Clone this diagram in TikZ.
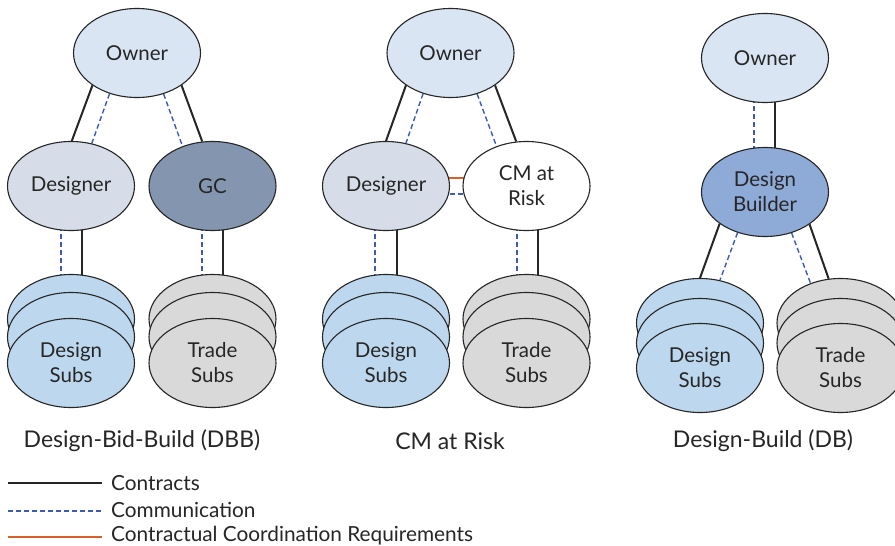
\documentclass[tikz,border=0pt]{standalone}
\usepackage{fontspec}
\setmainfont{Lato}
\usetikzlibrary{shapes.geometric}
\pgfdeclarelayer{bg}
\pgfsetlayers{bg,main}
\definecolor{ownerc}{HTML}{D9E5F3}
\definecolor{desc}{HTML}{D7DDE8}
\definecolor{gcc}{HTML}{8496AF}
\definecolor{dsubc}{HTML}{BDD8EE}
\definecolor{tsubc}{HTML}{D9D9D9}
\definecolor{dbc}{HTML}{8EAAD7}
\definecolor{commc}{HTML}{3B5BB5}
\definecolor{coordc}{HTML}{D8602A}
\definecolor{inkc}{HTML}{262626}
\tikzset{
  ent/.style={ellipse, draw=inkc, line width=1.1pt, minimum width=127pt, minimum height=89pt,
    inner sep=0pt, align=center, text=inkc, font=\fontsize{20.5}{25}\selectfont},
  contract/.style={draw=inkc, line width=2pt},
  comm/.style={draw=commc, line width=1.4pt, dash pattern=on 5pt off 3pt},
  coordreq/.style={draw=coordc, line width=2pt},
  ptitle/.style={font=\fontsize{23}{26}\selectfont, text=inkc, inner sep=0pt},
  legtext/.style={anchor=base west, inner sep=0pt, font=\fontsize{20.8}{23}\selectfont, text=inkc}
}
\begin{document}
\begin{tikzpicture}[x=1pt,y=-1pt]
\useasboundingbox (0,0) rectangle (895,546);
\clip (0,0) rectangle (895,546);

% ---------- Design-Bid-Build ----------
\node[ent, fill=ownerc] (O1) at (137,53) {Owner};
\node[ent, fill=desc] (D1) at (71,186) {Designer};
\node[ent, fill=gcc] (G1) at (212.5,186) {GC};
\node[ent, fill=dsubc] (DS1a) at (71,319) {};
\node[ent, fill=dsubc] (DS1b) at (71,337) {};
\node[ent, fill=dsubc] (DS1) at (71,363) {Design\\Subs};
\node[ent, fill=tsubc] (TS1a) at (212.5,319) {};
\node[ent, fill=tsubc] (TS1b) at (212.5,337) {};
\node[ent, fill=tsubc] (TS1) at (212.5,363) {Trade\\Subs};
\node[ptitle] (T1) at (142,441) {Design-Bid-Build (DBB)};

% ---------- CM at Risk ----------
\node[ent, fill=ownerc] (O2) at (450.5,53) {Owner};
\node[ent, fill=desc] (D2) at (386,186) {Designer};
\node[ent, fill=white] (C2) at (526.5,186) {CM at\\Risk};
\node[ent, fill=dsubc] (DS2a) at (386,319) {};
\node[ent, fill=dsubc] (DS2b) at (386,337) {};
\node[ent, fill=dsubc] (DS2) at (386,363) {Design\\Subs};
\node[ent, fill=tsubc] (TS2a) at (526.5,319) {};
\node[ent, fill=tsubc] (TS2b) at (526.5,337) {};
\node[ent, fill=tsubc] (TS2) at (526.5,363) {Trade\\Subs};
\node[ptitle] (T2) at (450,441) {CM at Risk};

% ---------- Design-Build ----------
\node[ent, fill=ownerc] (O3) at (765,58) {Owner};
\node[ent, fill=dbc] (B3) at (765,192) {Design\\Builder};
\node[ent, fill=dsubc] (DS3a) at (700,323) {};
\node[ent, fill=dsubc] (DS3b) at (700,343) {};
\node[ent, fill=dsubc] (DS3) at (700,368) {Design\\Subs};
\node[ent, fill=tsubc] (TS3a) at (840.5,323) {};
\node[ent, fill=tsubc] (TS3b) at (840.5,343) {};
\node[ent, fill=tsubc] (TS3) at (840.5,368) {Trade\\Subs};
\node[ptitle] (T3) at (763,441) {Design-Build (DB)};

% ---------- connectors ----------
\begin{pgfonlayer}{bg}
  \fill[white] (0,0) rectangle (895,546);
  % DBB
  \draw[contract] (O1.216) -- (D1.89);
  \draw[comm] (O1.236) -- (D1.64);
  \draw[comm] (O1.303) -- (G1.127);
  \draw[contract] (O1.324) -- (G1.103);
  \draw[comm] ([xshift=-10pt]D1.center) -- ([xshift=-10pt]DS1a.center);
  \draw[contract] ([xshift=11pt]D1.center) -- ([xshift=11pt]DS1a.center);
  \draw[comm] ([xshift=-10.5pt]G1.center) -- ([xshift=-10.5pt]TS1a.center);
  \draw[contract] ([xshift=10.5pt]G1.center) -- ([xshift=10.5pt]TS1a.center);
  % CM at Risk
  \draw[contract] (O2.216) -- (D2.90);
  \draw[comm] (O2.236) -- (D2.65);
  \draw[comm] (O2.303) -- (C2.127);
  \draw[contract] (O2.324) -- (C2.103);
  \draw[coordreq] ([yshift=8pt]D2.center) -- ([yshift=8pt]C2.center);
  \draw[comm] ([yshift=-8pt]D2.center) -- ([yshift=-8pt]C2.center);
  \draw[comm] ([xshift=-11pt]D2.center) -- ([xshift=-11pt]DS2a.center);
  \draw[contract] ([xshift=11pt]D2.center) -- ([xshift=11pt]DS2a.center);
  \draw[comm] ([xshift=-9.5pt]C2.center) -- ([xshift=-9.5pt]TS2a.center);
  \draw[contract] ([xshift=11.5pt]C2.center) -- ([xshift=11.5pt]TS2a.center);
  % Design-Build
  \draw[comm] ([xshift=-11pt]O3.center) -- ([xshift=-11pt]B3.center);
  \draw[contract] ([xshift=10pt]O3.center) -- ([xshift=10pt]B3.center);
  \draw[contract] (B3.215) -- (DS3a.90);
  \draw[comm] (B3.236) -- (DS3a.65);
  \draw[comm] (B3.303) -- (TS3a.127);
  \draw[contract] (B3.324) -- (TS3a.105);
\end{pgfonlayer}

% ---------- legend ----------
\coordinate (La1) at (8,483);  \coordinate (La2) at (102,483);
\coordinate (Lb1) at (8,511);  \coordinate (Lb2) at (102,511);
\coordinate (Lc1) at (8,537);  \coordinate (Lc2) at (102,537);
\draw[draw=inkc, line width=1.6pt] (La1) -- (La2);
\draw[draw=commc, line width=1.3pt, dash pattern=on 5pt off 3pt] (Lb1) -- (Lb2);
\draw[draw=coordc, line width=1.6pt] (Lc1) -- (Lc2);
\node[legtext] (LT1) at (111,490) {Contracts};
\node[legtext] (LT2) at (111,517) {Communication};
\node[legtext] (LT3) at (111,541) {Contractual Coordination Requirements};
\end{tikzpicture}
\end{document}
